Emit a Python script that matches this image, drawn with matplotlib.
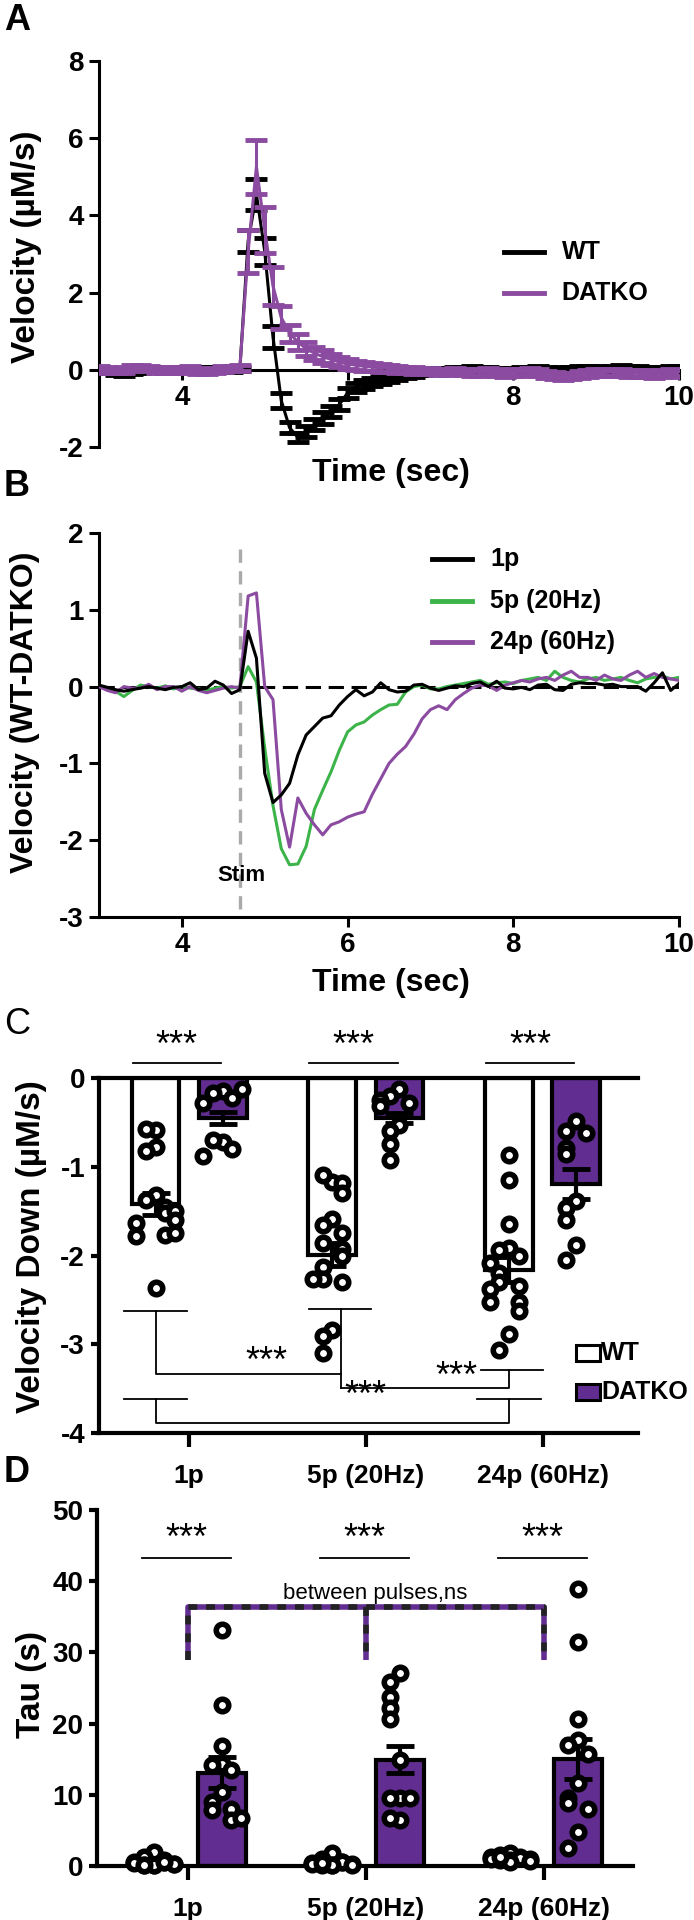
import matplotlib.pyplot as plt
import numpy as np
from matplotlib.patches import Rectangle

plt.rcParams['font.family'] = ['Liberation Sans', 'DejaVu Sans']
plt.rcParams['font.weight'] = 'bold'
plt.rcParams['axes.unicode_minus'] = False

# ---- panel A / B : time courses (sampled every 0.1 s) ----
time_s = [3.0, 3.1, 3.2, 3.3, 3.4, 3.5, 3.6, 3.7, 3.8, 3.9,
          4.0, 4.1, 4.2, 4.3, 4.4, 4.5, 4.6, 4.7, 4.8, 4.9,
          5.0, 5.1, 5.2, 5.3, 5.4, 5.5, 5.6, 5.7, 5.8, 5.9,
          6.0, 6.1, 6.2, 6.3, 6.4, 6.5, 6.6, 6.7, 6.8, 6.9,
          7.0, 7.1, 7.2, 7.3, 7.4, 7.5, 7.6, 7.7, 7.8, 7.9,
          8.0, 8.1, 8.2, 8.3, 8.4, 8.5, 8.6, 8.7, 8.8, 8.9,
          9.0, 9.1, 9.2, 9.3, 9.4, 9.5, 9.6, 9.7, 9.8, 9.9, 10.0]

wt_mean = [0.0, -0.02, -0.08, -0.1, -0.06, -0.02, 0.02, 0.0, -0.03, 0.0,
           0.02, 0.01, -0.02, 0.0, 0.02, 0.01, 0.0, 0.02, 3.33, 4.55,
           3.07, 0.85, -0.8, -1.5, -1.75, -1.6, -1.42, -1.25, -1.08, -0.9,
           -0.6, -0.45, -0.38, -0.32, -0.27, -0.22, -0.18, -0.14, -0.1, -0.07,
           -0.05, -0.03, -0.02, 0.0, 0.02, 0.03, 0.02, 0.0, -0.02, -0.03,
           -0.02, 0.0, 0.02, 0.03, 0.0, -0.02, 0.0, 0.02, 0.04, 0.05,
           0.03, 0.02, 0.04, 0.06, 0.05, 0.03, 0.02, 0.0, 0.02, 0.04, 0.03]
wt_sem = [0.06, 0.06, 0.06, 0.06, 0.06, 0.06, 0.06, 0.06, 0.06, 0.06,
          0.06, 0.06, 0.06, 0.06, 0.06, 0.06, 0.06, 0.06, 0.29, 0.4,
          0.35, 0.29, 0.2, 0.15, 0.12, 0.14, 0.15, 0.15, 0.15, 0.14,
          0.14, 0.12, 0.11, 0.1, 0.1, 0.09, 0.09, 0.08, 0.08, 0.07,
          0.07, 0.07, 0.07, 0.06, 0.06, 0.06, 0.06, 0.06, 0.06, 0.06,
          0.06, 0.06, 0.06, 0.06, 0.06, 0.06, 0.06, 0.06, 0.06, 0.06,
          0.06, 0.06, 0.06, 0.06, 0.06, 0.06, 0.06, 0.06, 0.06, 0.06, 0.06]
datko_mean = [0.02, 0.0, -0.02, 0.0, 0.05, 0.06, 0.03, 0.0, -0.02, -0.01,
              0.0, 0.02, -0.03, -0.05, -0.02, 0.02, 0.04, 0.05, 3.07, 5.26,
              3.63, 2.17, 1.35, 0.95, 0.72, 0.55, 0.43, 0.34, 0.27, 0.2,
              0.15, 0.12, 0.09, 0.07, 0.05, 0.03, 0.02, 0.0, -0.02, -0.03,
              -0.04, -0.05, -0.06, -0.04, -0.05, -0.07, -0.06, -0.05, -0.08, -0.1,
              -0.08, -0.06, -0.05, -0.08, -0.12, -0.15, -0.18, -0.16, -0.12, -0.1,
              -0.08, -0.07, -0.06, -0.08, -0.1, -0.09, -0.1, -0.12, -0.1, -0.08, -0.1]
datko_sem = [0.07, 0.07, 0.07, 0.07, 0.07, 0.07, 0.07, 0.07, 0.07, 0.07,
             0.07, 0.07, 0.07, 0.07, 0.07, 0.07, 0.07, 0.07, 0.55, 0.7,
             0.6, 0.5, 0.3, 0.22, 0.2, 0.18, 0.17, 0.16, 0.15, 0.14,
             0.13, 0.12, 0.11, 0.1, 0.1, 0.09, 0.09, 0.08, 0.08, 0.08,
             0.08, 0.08, 0.08, 0.08, 0.08, 0.09, 0.09, 0.09, 0.09, 0.09,
             0.09, 0.09, 0.09, 0.09, 0.09, 0.09, 0.09, 0.09, 0.09, 0.09,
             0.09, 0.09, 0.09, 0.09, 0.09, 0.09, 0.09, 0.09, 0.09, 0.09, 0.09]

diff_1p = [0.02, -0.01, -0.04, -0.06, -0.04, -0.02, 0.0, -0.02, -0.04, -0.01,
           0.0, 0.05, -0.04, -0.02, 0.07, 0.02, -0.09, -0.04, 0.72, 0.37,
           -1.13, -1.51, -1.41, -1.26, -0.89, -0.63, -0.52, -0.41, -0.38, -0.24,
           -0.13, -0.04, -0.12, -0.07, 0.05, -0.04, -0.07, -0.06, 0.02, 0.03,
           -0.02, -0.05, -0.02, 0.01, 0.0, 0.04, 0.06, 0.0, 0.07, -0.02,
           -0.03, -0.01, -0.04, 0.02, 0.03, -0.04, -0.05, 0.03, 0.05, 0.04,
           0.04, 0.02, 0.03, 0.0, 0.0, 0.0, -0.06, 0.05, 0.18, -0.05, 0.04]
diff_5p = [0.0, -0.03, -0.06, -0.13, -0.05, 0.02, 0.0, -0.02, 0.01, -0.03,
           0.0, -0.02, -0.03, -0.05, -0.02, 0.0, -0.02, 0.0, 0.26, 0.06,
           -0.8, -1.55, -2.11, -2.32, -2.31, -2.08, -1.6, -1.35, -1.11, -0.83,
           -0.59, -0.5, -0.46, -0.37, -0.3, -0.24, -0.23, -0.07, 0.0, 0.02,
           -0.03, -0.03, 0.0, 0.02, 0.04, 0.06, 0.08, 0.03, 0.05, 0.06,
           0.04, 0.08, 0.1, 0.12, 0.08, 0.2, 0.12, 0.08, 0.06, 0.1,
           0.12, 0.08, 0.1, 0.12, 0.08, 0.05, 0.1, 0.12, 0.14, 0.1, 0.12]
diff_24p = [0.0, -0.05, -0.08, 0.0, -0.02, -0.02, 0.03, -0.04, 0.0, 0.0,
            -0.06, 0.0, -0.05, -0.08, -0.05, -0.02, 0.0, -0.02, 1.18, 1.22,
            0.0, -0.17, -1.6, -2.09, -1.45, -1.65, -1.8, -1.93, -1.8, -1.76,
            -1.7, -1.66, -1.63, -1.4, -1.2, -1.0, -0.88, -0.78, -0.62, -0.42,
            -0.3, -0.25, -0.3, -0.17, -0.09, -0.02, 0.02, 0.01, -0.05, 0.02,
            0.05, 0.08, 0.06, 0.1, 0.12, 0.08, 0.15, 0.2, 0.12, 0.12,
            0.08, 0.15, 0.1, 0.08, 0.15, 0.2, 0.12, 0.17, 0.12, 0.1, 0.08]
stim_time = 4.7

# ---- panel C / D : per-condition values ----
conditions = ['1p', '5p (20Hz)', '24p (60Hz)']

vdown_wt_mean = [-1.42, -1.99, -2.16]
vdown_wt_sem = [0.12, 0.13, 0.14]
vdown_ko_mean = [-0.45, -0.45, -1.19]
vdown_ko_sem = [0.07, 0.06, 0.17]
vdown_wt_pts = [
    [-0.59, -0.58, -0.78, -0.82, -1.32, -1.38, -1.45, -1.52, -1.50, -1.63, -1.60, -1.77, -1.78, -1.75, -2.37],
    [-1.17, -1.09, -1.18, -1.30, -1.59, -1.66, -1.75, -1.86, -1.93, -2.01, -2.13, -2.26, -2.30, -2.26, -2.84, -2.91, -3.10],
    [-0.87, -1.15, -1.64, -1.92, -1.94, -2.0, -2.09, -2.2, -2.30, -2.34, -2.38, -2.52, -2.52, -2.63, -2.88, -3.06],
]
vdown_ko_pts = [
    [-0.15, -0.17, -0.22, -0.28, -0.12, -0.72, -0.70, -0.80, -0.88],
    [-0.12, -0.20, -0.28, -0.25, -0.32, -0.53, -0.60, -0.74, -0.92],
    [-0.49, -0.60, -0.62, -0.79, -0.86, -1.39, -1.47, -1.60, -1.88, -2.05],
]

tau_wt_mean = [0.8, 0.7, 1.2]
tau_wt_sem = [0.15, 0.15, 0.12]
tau_ko_mean = [13.1, 14.9, 15.0]
tau_ko_sem = [2.2, 1.9, 2.8]
tau_wt_pts = [
    [1.9, 1.2, 0.8, 0.5, 0.3, 0.2, 0.1, 0.6, 0.4, 0.3, 0.2, 0.1, 0.5],
    [1.8, 1.0, 0.6, 0.4, 0.3, 0.2, 0.1, 0.5, 0.3, 0.2, 0.1, 0.4],
    [1.8, 1.5, 1.3, 1.2, 1.0, 0.9, 0.8, 1.1, 1.0, 0.7, 0.5, 1.2],
]
tau_ko_pts = [
    [33.1, 22.6, 16.8, 14.3, 14.2, 13.5, 10.4, 9.0, 7.8, 8.0, 6.4, 6.7],
    [27.1, 25.9, 23.8, 22.2, 20.7, 14.9, 9.5, 9.5, 9.5, 6.5, 6.8],
    [38.9, 31.5, 20.6, 17.7, 17.0, 15.8, 11.6, 9.5, 8.9, 8.0, 4.8, 2.5],
]

PURPLE_LINE = '#8b4ba0'
PURPLE_BAR = '#622d90'
GREEN = '#3cb44a'

W, H = 694, 1920
fig = plt.figure(figsize=(W / 100, H / 100), dpi=100)


def px_axes(left, top, right, bottom):
    return fig.add_axes([left / W, 1 - bottom / H, (right - left) / W, (bottom - top) / H])


def ftext(x, y, s, **kw):
    kw.setdefault('ha', 'center')
    kw.setdefault('va', 'center')
    fig.text(x / W, 1 - y / H, s, **kw)


def swarm(vals, ythresh, step):
    # little beeswarm: points close in y get pushed sideways
    pattern = [0, -1, 1, -2, 2]
    offs, placed = [], []
    for v in vals:
        n = sum(1 for p in placed if abs(p - v) < ythresh)
        offs.append(pattern[n % 5] * step)
        placed.append(v)
    return np.array(offs)


def dots(ax, x, pts, ythresh):
    ax.scatter(x + swarm(pts, ythresh, 0.055), pts, s=81, facecolor='white',
               edgecolor='black', linewidths=4, zorder=5, clip_on=False)


# ================= A =================
ax = px_axes(99, 61, 679, 447)
ax.errorbar(time_s, wt_mean, yerr=wt_sem, color='black', lw=2.2, elinewidth=2.2,
            capsize=8, capthick=3.5, zorder=3)
ax.errorbar(time_s, datko_mean, yerr=datko_sem, color=PURPLE_LINE, lw=2.2,
            elinewidth=2.2, capsize=8, capthick=3.5, zorder=4)
ax.set_xlim(3, 10)
ax.set_ylim(-2, 8)
ax.spines['bottom'].set_position(('data', 0))
for s in ['top', 'right']:
    ax.spines[s].set_visible(False)
for s in ['left', 'bottom']:
    ax.spines[s].set_linewidth(2.2)
ax.set_xticks([4, 6, 8, 10])
ax.set_xticklabels(['4', '', '8', '10'])
ax.set_yticks([-2, 0, 2, 4, 6, 8])
ax.tick_params(direction='out', length=7, width=2.2, labelsize=20, pad=4)
for lbl in ax.get_xticklabels() + ax.get_yticklabels():
    lbl.set_fontweight('bold')
for yy, col, lab in [(0.505, 'black', 'WT'), (0.399, PURPLE_LINE, 'DATKO')]:
    ax.plot([0.698, 0.767], [yy, yy], color=col, lw=3.5, transform=ax.transAxes, clip_on=False)
    ax.text(0.798, yy, lab, transform=ax.transAxes, fontsize=18, va='center', ha='left')
ftext(27, 247, 'Velocity (µM/s)', rotation=90, fontsize=24)
ftext(391, 473, 'Time (sec)', fontsize=23)
ftext(17, 21, 'A', fontsize=26)

# ================= B =================
ax = px_axes(99, 533, 679, 917)
ax.axhline(0, color='black', lw=2.2, linestyle=(0, (5, 2.5)), zorder=1)
ax.axvline(stim_time, ymin=0.02, ymax=0.98, color='#aaaaaa', lw=2.4,
           linestyle=(0, (4, 2.5)), zorder=1)
ax.plot(time_s, diff_1p, color='black', lw=2.2, zorder=4)
ax.plot(time_s, diff_5p, color=GREEN, lw=2.2, zorder=2)
ax.plot(time_s, diff_24p, color=PURPLE_LINE, lw=2.2, zorder=3)
ax.text(stim_time + 0.02, -2.46, 'Stim', fontsize=16, ha='center', va='center')
ax.set_xlim(3, 10)
ax.set_ylim(-3, 2)
for s in ['top', 'right']:
    ax.spines[s].set_visible(False)
for s in ['left', 'bottom']:
    ax.spines[s].set_linewidth(2.2)
ax.set_xticks([4, 6, 8, 10])
ax.set_yticks([-3, -2, -1, 0, 1, 2])
ax.tick_params(direction='out', length=7, width=2.2, labelsize=20, pad=4)
for lbl in ax.get_xticklabels() + ax.get_yticklabels():
    lbl.set_fontweight('bold')
for yy, col, lab in [(0.932, 'black', '1p'), (0.823, GREEN, '5p (20Hz)'),
                     (0.716, PURPLE_LINE, '24p (60Hz)')]:
    ax.plot([0.574, 0.643], [yy, yy], color=col, lw=3.5, transform=ax.transAxes, clip_on=False)
    ax.text(0.674, yy, lab, transform=ax.transAxes, fontsize=18, va='center', ha='left')
ftext(25, 712, 'Velocity (WT-DATKO)', rotation=90, fontsize=23)
ftext(391, 983, 'Time (sec)', fontsize=23)
ftext(17, 487, 'B', fontsize=26)

# ================= C =================
ax = px_axes(99, 1078, 638, 1433)
idx = np.arange(len(conditions))
off, bw = 0.19, 0.27
ax.bar(idx - off, vdown_wt_mean, width=bw, color='white', edgecolor='black', lw=3, zorder=2)
ax.bar(idx + off, vdown_ko_mean, width=bw, color=PURPLE_BAR, edgecolor='black', lw=3, zorder=2)
ax.errorbar(idx - off, vdown_wt_mean, yerr=vdown_wt_sem, fmt='none', ecolor='black',
            elinewidth=3, capsize=10, capthick=3.5, zorder=3)
ax.errorbar(idx + off, vdown_ko_mean, yerr=vdown_ko_sem, fmt='none', ecolor='black',
            elinewidth=3, capsize=10, capthick=3.5, zorder=3)
for i in range(len(conditions)):
    dots(ax, i - off, vdown_wt_pts[i], 0.19)
    dots(ax, i + off, vdown_ko_pts[i], 0.19)
    ax.plot([i - 0.32, i + 0.18], [0.17, 0.17], color='black', lw=1.3, clip_on=False)
    ax.text(i - 0.07, 0.35, '***', fontsize=26, weight='normal', ha='center', va='center')
# between-condition brackets (WT)
lk = dict(color='black', lw=1.3, clip_on=False, zorder=1)
wt_x = idx - off
ax.plot([wt_x[0] - 0.18, wt_x[0] + 0.18], [-2.63, -2.63], **lk)
ax.plot([wt_x[1] - 0.13, wt_x[1] + 0.22], [-2.60, -2.60], **lk)
ax.plot([wt_x[0], wt_x[0], wt_x[1] + 0.05], [-2.63, -3.34, -3.34], **lk)
ax.plot([wt_x[1] + 0.05, wt_x[1] + 0.05], [-2.60, -3.49], **lk)
ax.plot([wt_x[1] + 0.05, wt_x[2], wt_x[2]], [-3.49, -3.49, -3.29], **lk)
ax.plot([wt_x[2] - 0.16, wt_x[2] + 0.19], [-3.29, -3.29], **lk)
ax.plot([wt_x[0] - 0.18, wt_x[0] + 0.18], [-3.62, -3.62], **lk)
ax.plot([wt_x[2] - 0.18, wt_x[2] + 0.18], [-3.62, -3.62], **lk)
ax.plot([wt_x[0], wt_x[0], wt_x[2], wt_x[2]], [-3.62, -3.89, -3.89, -3.62], **lk)
ax.text(0.44, -3.2, '***', fontsize=26, weight='normal', ha='center', va='center')
ax.text(1.51, -3.37, '***', fontsize=26, weight='normal', ha='center', va='center')
ax.text(1.0, -3.59, '***', fontsize=26, weight='normal', ha='center', va='center')
ax.set_xlim(-0.51, 2.54)
ax.set_ylim(-4, 0)
ax.spines['right'].set_visible(False)
for s in ['left', 'bottom', 'top']:
    ax.spines[s].set_linewidth(3)
ax.set_xticks(idx)
ax.set_xticklabels(conditions)
ax.set_yticks([-4, -3, -2, -1, 0])
ax.tick_params(axis='y', direction='out', length=6, width=3, labelsize=20, pad=4)
ax.tick_params(axis='x', direction='out', length=10, width=3, labelsize=19, pad=12)
for lbl in ax.get_xticklabels() + ax.get_yticklabels():
    lbl.set_fontweight('bold')
for yc, fc, lab in [(1353, 'white', 'WT'), (1392, PURPLE_BAR, 'DATKO')]:
    fig.add_artist(Rectangle((576 / W, 1 - (yc + 8) / H), 24 / W, 16 / H, transform=fig.transFigure,
                             facecolor=fc, edgecolor='black', lw=2.2))
    ftext(601, yc, lab, fontsize=18, ha='left')
ftext(32, 1247, 'Velocity Down (µM/s)', rotation=90, fontsize=24)
ftext(17, 1024, 'C', fontsize=26, weight='normal')

# ================= D =================
ax = px_axes(97, 1510, 633, 1866)
ax.bar(idx - off, tau_wt_mean, width=bw, color='white', edgecolor='black', lw=3, zorder=2)
ax.bar(idx + off, tau_ko_mean, width=bw, color=PURPLE_BAR, edgecolor='black', lw=3, zorder=2)
ax.errorbar(idx - off, tau_wt_mean, yerr=tau_wt_sem, fmt='none', ecolor='black',
            elinewidth=3, capsize=10, capthick=3.5, zorder=3)
ax.errorbar(idx + off, tau_ko_mean, yerr=tau_ko_sem, fmt='none', ecolor='black',
            elinewidth=3, capsize=10, capthick=3.5, zorder=3)
for i in range(len(conditions)):
    dots(ax, i - off, tau_wt_pts[i], 2.4)
    dots(ax, i + off, tau_ko_pts[i], 2.4)
    ax.plot([i - 0.26, i + 0.24], [43.2, 43.2], color='black', lw=1.3, clip_on=False)
    ax.text(i - 0.01, 45.8, '***', fontsize=26, weight='normal', ha='center', va='center')
bx = [idx[0], idx[0], idx[2], idx[2]]
by = [28.9, 36.4, 36.4, 28.9]
for col, ls in [(PURPLE_BAR, '-'), ('#222222', (0, (1.6, 1.6)))]:
    ax.plot(bx, by, color=col, lw=4, linestyle=ls, zorder=4, solid_capstyle='butt')
    ax.plot([idx[1], idx[1]], [36.4, 28.9], color=col, lw=4, linestyle=ls, zorder=4,
            solid_capstyle='butt')
ax.text(1.05, 38.3, 'between pulses,ns', fontsize=16, weight='normal', ha='center', va='center')
ax.set_xlim(-0.51, 2.5)
ax.set_ylim(0, 50)
for s in ['top', 'right']:
    ax.spines[s].set_visible(False)
for s in ['left', 'bottom']:
    ax.spines[s].set_linewidth(3)
ax.set_xticks(idx)
ax.set_xticklabels(conditions)
ax.set_yticks([0, 10, 20, 30, 40, 50])
ax.tick_params(axis='y', direction='out', length=6, width=3, labelsize=20, pad=4)
ax.tick_params(axis='x', direction='out', length=10, width=3, labelsize=19, pad=12)
for lbl in ax.get_xticklabels() + ax.get_yticklabels():
    lbl.set_fontweight('bold')
ftext(32, 1685, 'Tau (s)', rotation=90, fontsize=24)
ftext(17, 1472, 'D', fontsize=26)

fig.savefig('out.png', dpi=100)
